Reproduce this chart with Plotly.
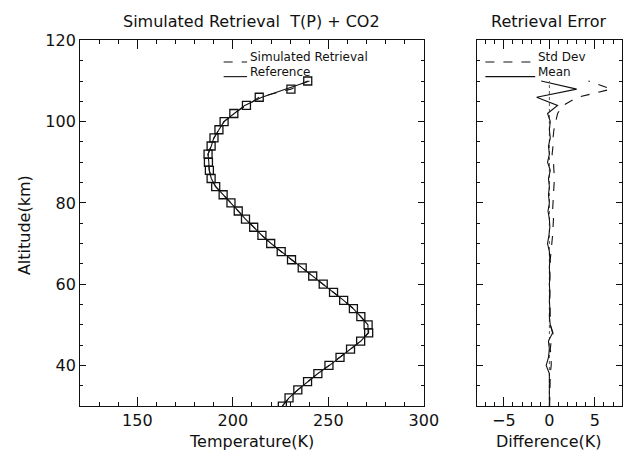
import plotly.graph_objects as go

# ---------------- data ----------------
altitude = [30, 32, 34, 36, 38, 40, 42, 44, 46, 48, 50, 52, 54, 56, 58, 60, 62, 64, 66, 68,
            70, 72, 74, 76, 78, 80, 82, 84, 86, 88, 90, 92, 94, 96, 98, 100, 102, 104, 106, 108, 110]

temp_retrieved = [225.9, 229.4, 234.0, 239.1, 244.5, 250.3, 256.1, 261.6, 266.9, 271.1,
                  270.8, 267.0, 263.1, 258.0, 252.7, 247.3, 241.8, 236.3, 230.7, 225.3,
                  219.8, 215.2, 210.9, 206.6, 202.8, 199.0, 194.9, 191.0, 188.6, 187.7,
                  187.2, 187.0, 188.6, 190.1, 192.7, 195.4, 200.5, 207.1, 213.8, 230.4, 239.2]

temp_reference = [225.9, 229.4, 234.0, 239.1, 244.5, 250.6, 256.2, 261.6, 267.0, 270.8,
                  270.7, 267.0, 263.0, 258.0, 252.6, 247.3, 241.7, 236.3, 230.6, 225.3,
                  220.0, 215.2, 210.8, 206.6, 202.9, 199.0, 195.0, 191.0, 188.7, 187.6,
                  187.4, 187.0, 188.7, 190.0, 192.7, 195.3, 200.7, 206.2, 215.2, 227.4, 240.1]

err_mean = [0.0, 0.0, 0.0, 0.0, 0.0, -0.35, -0.1, 0.0, -0.1, 0.35,
            0.1, 0.0, 0.05, 0.0, 0.05, 0.0, 0.05, 0.0, 0.05, 0.0,
            -0.2, -0.05, 0.05, 0.0, -0.15, 0.0, -0.1, 0.0, -0.1, 0.1,
            -0.2, 0.0, -0.1, 0.1, 0.0, 0.1, -0.2, 0.9, -1.4, 3.0, -0.9]

err_std = [0.03, 0.03, 0.05, 0.05, 0.1, 0.2, 0.2, 0.1, 0.2, 0.4,
           0.1, 0.1, 0.05, 0.05, 0.05, 0.03, 0.05, 0.05, 0.1, 0.2,
           0.3, 0.35, 0.4, 0.45, 0.35, 0.4, 0.45, 0.5, 0.55, 0.5,
           0.45, 0.3, 0.4, 0.4, 0.5, 0.7, 0.9, 1.5, 3.1, 6.8, 4.3]

zero_x = [0, 0]
zero_alt = [30, 110]

left_title = "Simulated Retrieval  T(P) + CO2"
right_title = "Retrieval Error"

# ---------------- figure ----------------
FONT = "DejaVu Sans"
INK = "#111111"
fig = go.Figure()

fig.add_trace(go.Scatter(x=temp_reference, y=altitude, mode="lines",
                         line=dict(color=INK, width=1.1), xaxis="x", yaxis="y",
                         showlegend=False))
fig.add_trace(go.Scatter(x=temp_retrieved, y=altitude, mode="lines+markers",
                         line=dict(color=INK, width=1.1, dash="dash"),
                         marker=dict(symbol="square-open", size=8,
                                     line=dict(color="#222222", width=1.3)),
                         xaxis="x", yaxis="y", showlegend=False))

fig.add_trace(go.Scatter(x=zero_x, y=zero_alt, mode="lines",
                         line=dict(color="#555555", width=1, dash="dot"),
                         xaxis="x2", yaxis="y2", showlegend=False))
fig.add_trace(go.Scatter(x=err_std, y=altitude, mode="lines",
                         line=dict(color=INK, width=1.1, dash="dash"),
                         xaxis="x2", yaxis="y2", showlegend=False))
fig.add_trace(go.Scatter(x=err_mean, y=altitude, mode="lines",
                         line=dict(color=INK, width=1.1),
                         xaxis="x2", yaxis="y2", showlegend=False))

W, H = 643, 458
def px(x):
    return x / W
def py(y):
    return 1 - y / H

common_x = dict(showgrid=False, zeroline=False, showline=True, linecolor=INK, linewidth=1,
                mirror="ticks", ticks="inside", ticklen=9, tickcolor=INK, tickwidth=1,
                tickfont=dict(family=FONT, size=16, color=INK))
common_y = dict(showgrid=False, zeroline=False, showline=True, linecolor=INK, linewidth=1,
                mirror="ticks", ticks="inside", ticklen=6, tickcolor=INK, tickwidth=1,
                tickfont=dict(family=FONT, size=16, color=INK))

ydom = [py(405), py(32)]
fig.update_layout(
    width=W, height=H,
    margin=dict(l=0, r=0, t=0, b=0),
    paper_bgcolor="white", plot_bgcolor="white",
    showlegend=False,
    xaxis=dict(domain=[px(82), px(434)], range=[120, 300], tick0=150, dtick=50,
               minor=dict(dtick=10, ticklen=4, ticks="inside", tickcolor=INK),
               anchor="y", **common_x),
    yaxis=dict(domain=ydom, range=[30, 120], tick0=40, dtick=20,
               minor=dict(dtick=5, ticklen=3, ticks="inside", tickcolor=INK),
               anchor="x", **common_y),
    xaxis2=dict(domain=[px(488), px(637)], range=[-8, 8], tick0=0, dtick=5,
                minor=dict(dtick=1, ticklen=4, ticks="inside", tickcolor=INK),
                anchor="y2", **common_x),
    yaxis2=dict(domain=ydom, range=[30, 120], tick0=40, dtick=20, showticklabels=False,
                minor=dict(dtick=5, ticklen=3, ticks="inside", tickcolor=INK),
                anchor="x2", **common_y),
)

ann = []
def text(x, y, s, size, xanchor="center", angle=0):
    ann.append(dict(x=px(x), y=py(y), xref="paper", yref="paper", text=s, showarrow=False,
                    xanchor=xanchor, yanchor="middle", textangle=angle,
                    font=dict(family=FONT, size=size, color=INK)))

text(258, 13, left_title, 16)
text(562, 13, right_title, 16)
text(258, 441, "Temperature(K)", 16)
text(562, 441, "Difference(K)", 16)
text(25, 220, "Altitude(km)", 16, angle=-90)
# legends
text(254, 49, "Simulated Retrieval", 12, xanchor="left")
text(254, 64, "Reference", 12, xanchor="left")
text(549, 49, "Std Dev", 12, xanchor="left")
text(549, 64, "Mean", 12, xanchor="left")
fig.update_layout(annotations=ann)

shapes = [
    dict(type="line", xref="paper", yref="paper", x0=px(229), x1=px(253), y0=py(54), y1=py(54),
         line=dict(color=INK, width=1.1, dash="dash")),
    dict(type="line", xref="paper", yref="paper", x0=px(229), x1=px(253), y0=py(69), y1=py(69),
         line=dict(color=INK, width=1.1)),
    dict(type="line", xref="paper", yref="paper", x0=px(497), x1=px(548), y0=py(54), y1=py(54),
         line=dict(color=INK, width=1.1, dash="dash")),
    dict(type="line", xref="paper", yref="paper", x0=px(497), x1=px(548), y0=py(69), y1=py(69),
         line=dict(color=INK, width=1.1)),
]
fig.update_layout(shapes=shapes)

fig.write_html("out.html")
